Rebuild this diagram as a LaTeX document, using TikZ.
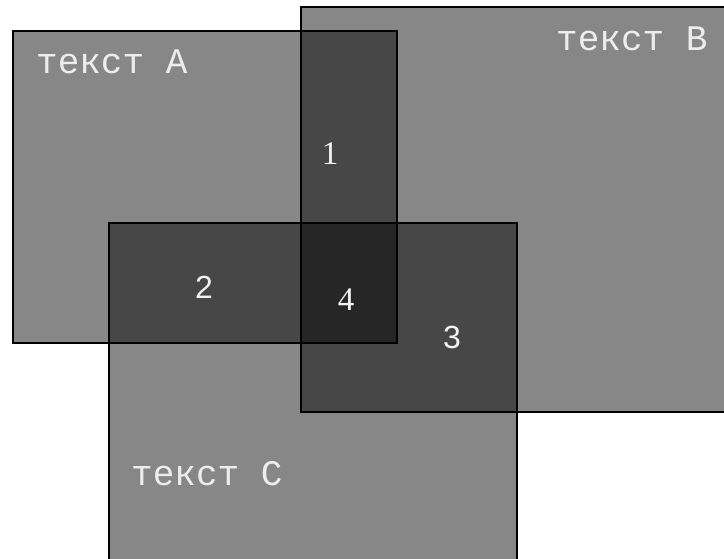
\documentclass[tikz,border=0pt]{standalone}
\usepackage{fontspec}
\newfontfamily\monofont{Liberation Mono}
\newfontfamily\seriffont{Liberation Serif}
\newfontfamily\sansfont{Liberation Sans}
\begin{document}
\begin{tikzpicture}[x=1pt,y=-1pt,
  zone/.style={draw=black, line width=2pt, fill=black, fill opacity=0.47, draw opacity=1,
    inner sep=0pt, outer sep=0pt, anchor=north west, rectangle},
  title/.style={text=white!93!black, font=\monofont\fontsize{36}{40}\selectfont, anchor=base west, inner sep=0pt},
  numS/.style={text=white!95!black, font=\seriffont\fontsize{33}{38}\selectfont, anchor=base, inner sep=0pt},
  numN/.style={text=white!95!black, font=\sansfont\fontsize{32}{38}\selectfont, anchor=base, inner sep=0pt}]
\useasboundingbox (0,0) rectangle (724,558);
\clip (0,0) rectangle (724,558);
\node[zone, minimum width=384pt, minimum height=312pt] (A) at (13,31) {};
\node[zone, minimum width=440pt, minimum height=405pt] (B) at (301,7) {};
\node[zone, minimum width=408pt, minimum height=352pt] (C) at (109,223) {};
\node[title] (tA) at (36,73) {текст A};
\node[title] (tB) at (556,50) {текст B};
\node[title] (tC) at (131,485) {текст C};
\node[numS] (n1) at (330,164) {1};
\node[numN] (n2) at (204,298) {2};
\node[numN] (n3) at (452,348) {3};
\node[numS] (n4) at (346,310) {4};
\end{tikzpicture}
\end{document}
